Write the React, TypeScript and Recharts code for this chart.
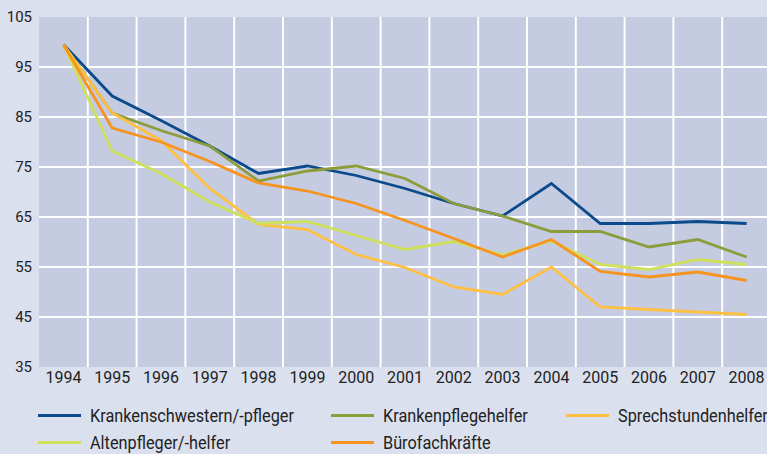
import React from "react";
import { LineChart, Line, XAxis, YAxis, CartesianGrid } from "recharts";

const years = [1994, 1995, 1996, 1997, 1998, 1999, 2000, 2001, 2002, 2003, 2004, 2005, 2006, 2007, 2008];
const krankenschwestern = [99.5, 89.2, 84.3, 79.2, 73.7, 75.2, 73.3, 70.7, 67.7, 65.2, 71.7, 63.7, 63.7, 64.1, 63.7];
const krankenpflegehelfer = [99.5, 85.8, 82.3, 79.2, 72.2, 74.2, 75.2, 72.7, 67.7, 65.2, 62.1, 62.1, 59.0, 60.5, 57.0];
const sprechstundenhelfer = [99.5, 85.8, 80.3, 70.7, 63.5, 62.5, 57.5, 54.9, 51.0, 49.5, 55.0, 47.0, 46.5, 46.0, 45.5];
const altenpfleger = [99.5, 78.2, 73.7, 68.0, 63.7, 64.1, 61.3, 58.5, 60.1, 57.4, 60.2, 55.5, 54.5, 56.5, 55.5];
const buerofachkraefte = [99.5, 82.8, 80.0, 76.1, 71.8, 70.2, 67.7, 64.3, 60.7, 57.0, 60.5, 54.1, 53.0, 54.0, 52.3];

const yTicks = [35, 45, 55, 65, 75, 85, 95, 105];
const yGridValues = [45, 55, 65, 75, 85, 95];

const series = [
  { key: "ks", name: "Krankenschwestern/-pfleger", values: krankenschwestern, color: "#0b4a8b" },
  { key: "kph", name: "Krankenpflegehelfer", values: krankenpflegehelfer, color: "#8c9d3b" },
  { key: "sh", name: "Sprechstundenhelfer", values: sprechstundenhelfer, color: "#fdc043" },
  { key: "ap", name: "Altenpfleger/-helfer", values: altenpfleger, color: "#cfe05b" },
  { key: "bf", name: "Bürofachkräfte", values: buerofachkraefte, color: "#f7941f" },
];

const data = years.map((y, i) => {
  const row: Record<string, number> = { year: y };
  series.forEach((s) => {
    row[s.key] = s.values[i];
  });
  return row;
});

const xBoundaries = years.slice(0, -1).map((y) => y + 0.5);

const legendLayout = [
  { idx: 0, left: 38, top: 403 },
  { idx: 1, left: 331, top: 403 },
  { idx: 2, left: 566, top: 403 },
  { idx: 3, left: 38, top: 430 },
  { idx: 4, left: 331, top: 430 },
];

const LEGEND_FONT = "18px Roboto";
const LEGEND_TARGET_WIDTH = 204;

function legendScale(): number {
  try {
    const c = document.createElement("canvas");
    const ctx = c.getContext("2d");
    if (!ctx) return 0.9;
    ctx.font = LEGEND_FONT;
    const w = ctx.measureText(series[0].name).width;
    if (!w) return 0.9;
    return LEGEND_TARGET_WIDTH / w;
  } catch (e) {
    return 0.9;
  }
}

export default function App() {
  const sx = legendScale();
  return (
    <div
      style={{
        position: "absolute",
        left: 0,
        top: 0,
        width: 767,
        height: 454,
        overflow: "hidden",
        background: "#dae0ee",
      }}
    >
      <LineChart
        width={780}
        height={454}
        data={data}
        margin={{ top: 17, right: 9, bottom: 0, left: 0 }}
      >
        <CartesianGrid
          fill="#c5cbe0"
          stroke="#ffffff"
          strokeWidth={2}
          horizontalValues={yGridValues}
          verticalValues={xBoundaries}
        />
        <XAxis
          dataKey="year"
          type="number"
          domain={[1993.5, 2008.5]}
          ticks={years}
          interval={0}
          axisLine={false}
          tickLine={false}
          tickSize={0}
          tickMargin={5}
          height={87}
          tick={{ fill: "#222", fontSize: 16, fontFamily: "Roboto" }}
        />
        <YAxis
          type="number"
          domain={[35, 105]}
          ticks={yTicks}
          interval={0}
          axisLine={false}
          tickLine={false}
          tickSize={0}
          tickMargin={7}
          width={39}
          tick={{ fill: "#222", fontSize: 15, fontFamily: "Roboto" }}
        />
        {series.map((s) => (
          <Line
            key={s.key}
            dataKey={s.key}
            name={s.name}
            stroke={s.color}
            strokeWidth={2.8}
            dot={false}
            activeDot={false}
            isAnimationActive={false}
            strokeLinejoin="miter"
          />
        ))}
      </LineChart>
      {legendLayout.map(({ idx, left, top }) => {
        const s = series[idx];
        return (
          <div
            key={s.key}
            style={{
              position: "absolute",
              left,
              top,
              height: 24,
              display: "flex",
              alignItems: "center",
              whiteSpace: "nowrap",
            }}
          >
            <div style={{ width: 43, height: 3, background: s.color }} />
            <span
              style={{
                marginLeft: 9,
                display: "inline-block",
                fontFamily: "Roboto",
                fontSize: 18,
                color: "#222",
                transform: `scaleX(${sx})`,
                transformOrigin: "left center",
              }}
            >
              {s.name}
            </span>
          </div>
        );
      })}
    </div>
  );
}
